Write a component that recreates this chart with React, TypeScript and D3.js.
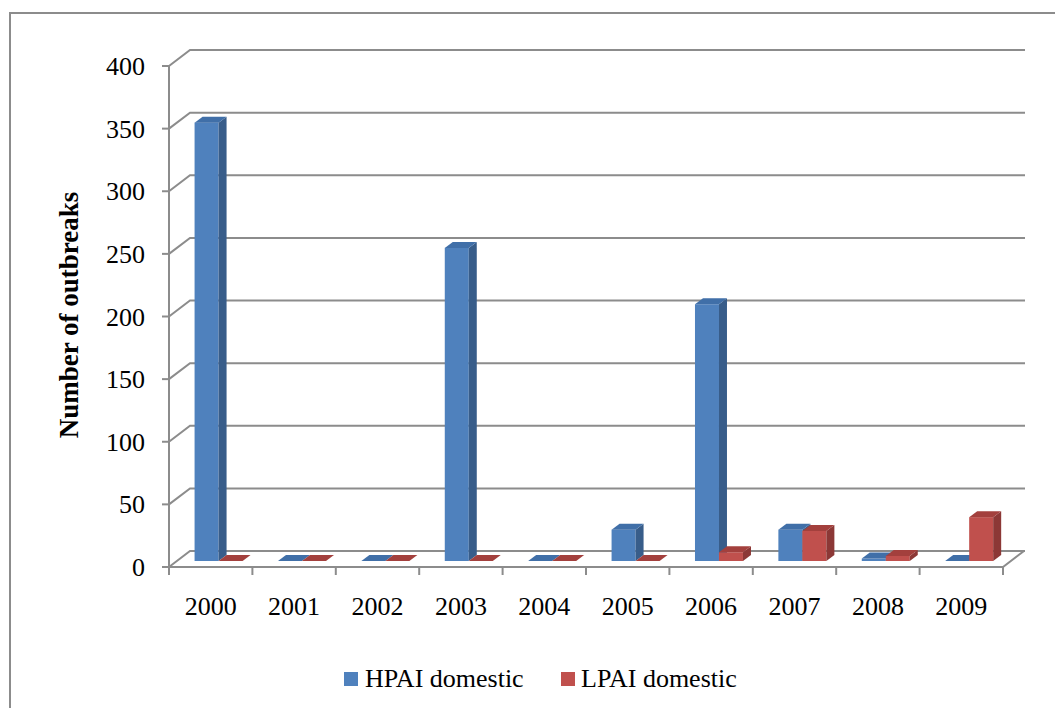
import React from "react";
import * as d3 from "d3";

const years = ["2000", "2001", "2002", "2003", "2004", "2005", "2006", "2007", "2008", "2009"];
const hpaiValues = [350, 0, 0, 250, 0, 25, 205, 25, 2, 0];
const lpaiValues = [0, 0, 0, 0, 0, 0, 7, 24, 4, 35];
const yTicks = [0, 50, 100, 150, 200, 250, 300, 350, 400];
const seriesNames = ["HPAI domestic", "LPAI domestic"];

const FONT = "'Liberation Serif', 'Times New Roman', serif";

const colors = [
  { front: "#4F81BD", side: "#385D8A", top: "#406FA8" },
  { front: "#C0504D", side: "#8C3836", top: "#A3403D" },
];

export default function App() {
  const left = 169;
  const right = 1003;
  const floorY = 567;
  const topY = 66;
  const wallDx = 21;
  const wallDy = -16;
  const gridColor = "#8C8C8C";

  const y = d3.scaleLinear().domain([0, 400]).range([floorY, topY]);
  const x = d3.scaleBand().domain(years).range([left, right]).paddingInner(0).paddingOuter(0);
  const bw = x.bandwidth();
  const inner = d3
    .scaleBand()
    .domain(seriesNames)
    .range([0, bw])
    .paddingOuter((bw - 48) / 2 / 24)
    .paddingInner(0);
  const barW = inner.bandwidth();

  const d0 = 6 / 16;
  const bdx = 8;
  const bdy = -6;
  const fx = wallDx * d0;
  const fy = wallDy * d0;

  const bars: JSX.Element[] = [];
  years.forEach((yr, i) => {
    [hpaiValues, lpaiValues].forEach((vals, s) => {
      const v = vals[i];
      const c = colors[s];
      const x0 = (x(yr) as number) + (inner(seriesNames[s]) as number) + fx;
      const x1 = x0 + barW;
      const yb = y(0) + fy;
      const yt = y(v) + fy;
      const key = `${yr}-${s}`;
      const topPts = `${x0},${yt} ${x1},${yt} ${x1 + bdx},${yt + bdy} ${x0 + bdx},${yt + bdy}`;
      if (v > 0) {
        bars.push(
          <g key={key}>
            <rect x={x0} y={yt} width={barW} height={yb - yt} fill={c.front} />
            <polygon
              points={`${x1},${yt} ${x1 + bdx},${yt + bdy} ${x1 + bdx},${yb + bdy} ${x1},${yb}`}
              fill={c.side}
            />
            <polygon points={topPts} fill={c.top} />
          </g>
        );
      } else {
        bars.push(<polygon key={key} points={topPts} fill={c.top} />);
      }
    });
  });

  return (
    <svg
      width={1055}
      height={708}
      style={{ position: "absolute", left: 0, top: 0, background: "#fff" }}
      fontFamily={FONT}
    >
      <rect x={10} y={13} width={1100} height={760} fill="#fff" stroke="#8C8C8C" strokeWidth={2} />

      {yTicks.map((t) => (
        <g key={t}>
          <polyline
            points={`${left},${y(t)} ${left + wallDx},${y(t) + wallDy} ${right + wallDx + 1},${y(t) + wallDy}`}
            fill="none"
            stroke={gridColor}
            strokeWidth={2}
          />
          <line x1={left - 7} x2={left} y1={y(t)} y2={y(t)} stroke={gridColor} strokeWidth={2} />
          <text x={145} y={y(t) + 9} textAnchor="end" fontSize={26} fill="#000">
            {t}
          </text>
        </g>
      ))}

      <polyline
        points={`${left},${floorY} ${right},${floorY} ${right + wallDx},${floorY + wallDy}`}
        fill="none"
        stroke={gridColor}
        strokeWidth={2}
      />
      <line x1={left} x2={left} y1={topY} y2={floorY} stroke={gridColor} strokeWidth={2} />

      {[...years.map((yr) => x(yr) as number), right].map((tx, i) => (
        <line key={i} x1={tx} x2={tx} y1={floorY} y2={floorY + 8} stroke={gridColor} strokeWidth={2} />
      ))}

      {bars}

      {years.map((yr) => (
        <text key={yr} x={(x(yr) as number) + bw / 2} y={615} textAnchor="middle" fontSize={26} fill="#000">
          {yr}
        </text>
      ))}

      <text
        transform={`translate(78, ${315}) rotate(-90)`}
        textAnchor="middle"
        fontSize={27}
        fontWeight="bold"
        fill="#000"
      >
        Number of outbreaks
      </text>

      <rect x={344} y={672} width={14} height={14} fill={colors[0].front} />
      <text x={365} y={687} fontSize={26} fill="#000">
        {seriesNames[0]}
      </text>
      <rect x={561} y={672} width={14} height={14} fill={colors[1].front} />
      <text x={581} y={687} fontSize={26} fill="#000">
        {seriesNames[1]}
      </text>
    </svg>
  );
}
